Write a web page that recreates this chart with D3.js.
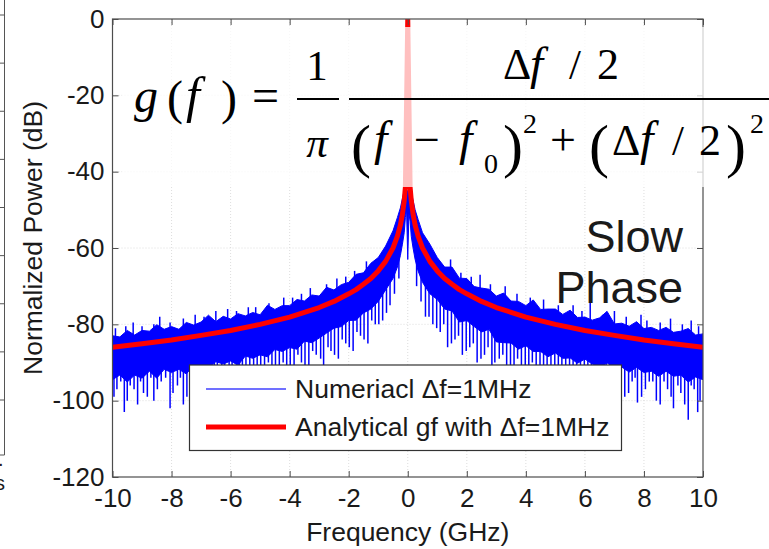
<!DOCTYPE html>
<html>
<head>
<meta charset="utf-8">
<script src="https://cdn.jsdelivr.net/npm/d3@7"></script>
<style>
	body { margin: 0; background: #fff; }
	svg { display: block; }
	text { font-family: "Liberation Sans", Arial, Helvetica, sans-serif; fill: #1a1a1a; }
	.eq text { font-family: "Liberation Serif", "Times New Roman", serif; fill: #000; }
</style>
</head>
<body>
<svg id="chart" width="769" height="549"></svg>
<script>
// axis ticks
var xTicks = [-10, -8, -6, -4, -2, 0, 2, 4, 6, 8, 10];
var yTicks = [-120, -100, -80, -60, -40, -20, 0];

// analytical lorentzian (red), dB
var redFreq = [-10, -9, -8, -7, -6, -5, -4, -3, -2.5, -2, -1.75, -1.5, -1.25, -1, -0.75, -0.5, -0.35, -0.25, -0.18, -0.12, -0.08, 0,
	0.08, 0.12, 0.18, 0.25, 0.35, 0.5, 0.75, 1, 1.25, 1.5, 1.75, 2, 2.5, 3, 4, 5, 6, 7, 8, 9, 10];
var redDb = [-86.0, -85.1, -84.1, -82.9, -81.6, -80.0, -78.1, -75.6, -74.0, -72.0, -70.9, -69.5, -68.0, -66.0, -63.5, -60.0, -56.9, -54.0, -51.1, -47.6, -44.1, 0,
	-44.1, -47.6, -51.1, -54.0, -56.9, -60.0, -63.5, -66.0, -68.0, -69.5, -70.9, -72.0, -74.0, -75.6, -78.1, -80.0, -81.6, -82.9, -84.1, -85.1, -86.0];

// numerical spectrum (blue): dense core band, upper / lower edge in dB
var blueFreq = [-10, -9.75, -9.5, -9.25, -9, -8.75, -8.5, -8.25, -8, -7.75, -7.5, -7.25, -7, -6.75, -6.5, -6.25, -6, -5.75, -5.5, -5.25,
	-5, -4.75, -4.5, -4.25, -4, -3.75, -3.5, -3.25, -3, -2.75, -2.5, -2.25, -2, -1.75, -1.5, -1.25, -1,
	-0.75, -0.5, -0.35, -0.25, -0.18, -0.12, -0.08, -0.04, 0, 0.04, 0.08, 0.12, 0.18, 0.25, 0.35, 0.5, 0.75,
	1, 1.25, 1.5, 1.75, 2, 2.25, 2.5, 2.75, 3, 3.25, 3.5, 3.75, 4, 4.25, 4.5, 4.75, 5, 5.25, 5.5, 5.75,
	6, 6.25, 6.5, 6.75, 7, 7.25, 7.5, 7.75, 8, 8.25, 8.5, 8.75, 9, 9.25, 9.5, 9.75, 10];
var blueHi = [-83.0, -83.3, -81.6, -82.8, -81.6, -81.8, -80.1, -81.3, -80.6, -81.3, -79.5, -80.2, -79.4, -77.6, -79.3, -77.9, -78.6, -77.2, -77.8, -76.9,
	-77.5, -75.0, -76.1, -75.1, -75.1, -73.5, -73.9, -72.3, -72.6, -70.3, -71.0, -69.6, -69.0, -66.9, -66.5, -64.0, -62.5,
	-59.5, -55.5, -52.0, -49.5, -47.0, -45.0, -44.5, -45.0, -45.0, -45.0, -44.5, -45.5, -47.5, -50.0, -52.5, -56.0, -59.0,
	-62.5, -65.0, -65.0, -67.9, -68.0, -70.1, -70.5, -70.8, -72.6, -71.8, -73.9, -74.0, -75.1, -73.6, -76.1, -76.0, -76.0, -77.4, -76.3, -78.2,
	-78.1, -78.9, -78.3, -76.6, -79.9, -79.7, -80.5, -79.3, -81.1, -80.8, -81.6, -80.8, -82.1, -81.8, -81.1, -82.8, -82.5];
var blueLo = [-94.5, -93.3, -95.1, -93.3, -94.1, -92.3, -94.1, -91.8, -92.6, -91.8, -93.0, -90.7, -91.4, -91.6, -89.8, -90.4, -89.6, -90.7, -88.3, -88.9,
	-88.0, -88.5, -86.6, -87.1, -86.1, -86.5, -84.4, -84.8, -83.6, -82.3, -81.0, -80.6, -79.0, -78.9, -77.0, -76.0, -74.0,
	-71.0, -68.0, -65.0, -62.0, -59.0, -56.0, -52.0, -50.0, -63.0, -51.0, -53.0, -57.0, -60.0, -63.0, -66.0, -69.0, -72.0,
	-73.5, -76.0, -76.5, -79.4, -79.0, -80.6, -82.0, -81.3, -84.6, -84.8, -84.9, -86.5, -85.6, -87.1, -87.1, -88.5, -87.5, -88.9, -88.8, -90.2,
	-89.1, -90.4, -91.3, -90.1, -91.4, -91.2, -92.5, -91.3, -92.6, -92.3, -93.6, -92.3, -93.6, -93.3, -95.1, -93.8, -94.5];

// isolated spikes of the numerical spectrum (from / to in dB)
var spikeFreq = [-9.85, -9.6, -9.4, -9.15, -8.95, -8.6, -8.35, -8.05, -7.8, -7.6, -7.35, -7.1, -6.85, -6.55, -6.3, -6.05, -5.8, -5.6, -5.35, -5.1,
	-4.85, -4.6, -4.35, -4.1, -3.85, -3.6, -3.35, -3.1, -2.85, -2.6, -2.35, -2.1, -1.85, -1.6, -1.35, -1.1, -0.85, -0.6,
	0.6, 0.85, 1.1, 1.35, 1.6, 1.85, 2.1, 2.35, 2.6, 2.85, 3.1, 3.35, 3.6, 3.85, 4.1, 4.35, 4.6, 4.85, 5.1, 5.35, 5.6, 5.85,
	6.1, 6.35, 6.6, 6.85, 7.1, 7.35, 7.6, 7.78, 8.05, 8.3, 8.55, 8.8, 9.0, 9.25, 9.5, 9.7, 9.9,
	-9.3, -8.4, -7.2, -6.1, -5.4, -4.2, -3.3, -2.4, -1.4, 1.45, 2.45, 3.3, 4.6, 5.6, 6.18, 7.0, 7.9, 8.9, 9.6,
	-9.95, -9.72, -9.5, -9.27, -9.05, -8.82, -8.7, -8.48, -8.2, -7.95, -7.7, -7.48, -7.22, -6.98, -6.7, -6.45, -6.2, -5.95, -5.7, -5.48,
	-5.22, -4.98, -4.72, -4.48, -4.22, -3.98, -3.72, -3.48, -3.22, -2.95, -2.7, -2.48, -2.22, -1.98, -1.72, -1.48, -1.22, -0.98, -0.72, -0.45, -0.3,
	0.3, 0.45, 0.72, 0.98, 1.22, 1.48, 1.72, 1.98, 2.22, 2.48, 2.72, 2.95, 3.22, 3.48, 3.72, 3.98, 4.22, 4.48, 4.72, 4.98,
	5.22, 5.48, 5.72, 5.98, 6.22, 6.48, 6.72, 6.98, 7.22, 7.48, 7.7, 7.92, 8.18, 8.42, 8.68, 8.92, 9.15, 9.38, 9.6, 9.82,
	-9.9, -9.55, -9.0, -8.6, -8.05, -7.6, -6.9, -6.5, -5.8, -5.15, -4.7, -3.9, -3.6, -2.75, -2.1, -1.8,
	1.8, 2.15, 2.8, 3.7, 4.15, 5.1, 5.9, 6.6, 7.4, 8.1, 8.55, 9.3, 9.85];
var spikeTop = [-89, -89, -89, -88, -88, -88, -88, -87, -87, -87, -86, -86, -86, -85, -85, -85, -84, -84, -84, -83,
	-83, -82, -82, -81, -81, -80, -79, -79, -78, -77, -76, -75, -74, -72, -71, -69, -66, -63,
	-64, -67, -70, -72, -73, -75, -76, -77, -78, -79, -80, -80, -81, -82, -82, -83, -83, -84, -84, -84, -85, -85,
	-85, -86, -86, -86, -87, -87, -87, -88, -88, -88, -88, -89, -89, -89, -89, -89, -90,
	-79.5, -78, -77.5, -76, -75.5, -73, -70.5, -68, -63.5, -63, -67, -70, -73.5, -75, -74, -76.5, -77.5, -78.5, -79,
	-89, -89, -88, -88, -88, -88, -88, -87, -87, -87, -87, -86, -86, -86, -85, -85, -85, -84, -84, -84,
	-83, -83, -82, -82, -81, -81, -80, -79, -79, -78, -77, -76, -75, -74, -73, -71, -70, -68, -65, -61, -58,
	-58, -61, -65, -68, -70, -71, -73, -74, -75, -76, -77, -78, -79, -79, -80, -81, -81, -82, -82, -83,
	-83, -84, -84, -84, -85, -85, -85, -86, -86, -86, -87, -87, -87, -87, -88, -88, -88, -88, -89, -89,
	-81, -80.5, -80.5, -80, -79.5, -78.5, -78, -76.5, -76.5, -75.5, -74.5, -73, -72, -69.5, -67.5, -66,
	-66.5, -67.5, -69.5, -72, -73, -75, -76.5, -77.5, -78, -79, -79.5, -80, -80.5];
var spikeBottom = [-97, -103, -96, -101, -98, -100, -95, -102, -96, -101, -95, -98, -94, -97, -93, -96, -99, -93, -96, -92,
	-98, -93, -95, -91, -94, -90, -92, -88, -91, -87, -89, -85, -87, -83, -85, -80, -79, -75,
	-78, -80, -82, -86, -84, -88, -86, -90, -88, -92, -89, -93, -91, -95, -92, -96, -93, -97, -94, -98, -94, -97,
	-95, -99, -95, -98, -96, -99, -95, -100.5, -97, -95, -101, -97, -102, -98, -105, -97, -100,
	-85, -84, -83, -81.5, -80.5, -78.5, -76, -73.5, -69, -69, -74, -76, -79, -81, -81.8, -83, -84, -85, -85.5,
	-99, -95, -100, -97, -95, -99, -94, -97, -94, -98, -94, -99, -93, -97, -92, -99, -93, -96, -92, -97,
	-91, -94, -90, -95, -90, -93, -88, -92, -87, -89, -86, -88, -84, -86, -82, -84, -79, -80, -77, -72, -68,
	-70, -74, -78, -81, -80, -85, -83, -87, -85, -89, -86, -90, -88, -92, -89, -94, -90, -95, -91, -96,
	-92, -97, -93, -98, -93, -97, -94, -99, -94, -98, -94, -99, -95, -100, -95, -99, -96, -101, -96, -103,
	-86, -85.6, -85, -84.6, -84, -83.6, -82.8, -82.3, -81.2, -80.3, -79.5, -77.9, -77.2, -74.8, -72.4, -71,
	-71, -72.6, -75, -77.4, -78.4, -80.2, -81.4, -82.4, -83.4, -84.1, -84.6, -85.3, -86];

var legendLabels = ["Numeriacl \u0394f=1MHz", "Analytical gf with \u0394f=1MHz"];

var svg = d3.select("#chart");
var x = d3.scaleLinear().domain([-10, 10]).range([112.5, 703]);
var y = d3.scaleLinear().domain([-120, 0]).range([477, 19]);

// left neighbour panel leftover (cropped figure)
var yn = d3.scaleLinear().domain([0, 8]).range([15, 400]);
svg.append("line").attr("x1", 4.5).attr("x2", 4.5).attr("y1", 0).attr("y2", 455).attr("stroke", "#555");
svg.append("line").attr("x1", 0).attr("x2", 4.5).attr("y1", 455).attr("y2", 455).attr("stroke", "#555");
svg.selectAll(".ntick").data(d3.range(0, 9)).enter().append("line")
	.attr("x1", 0).attr("x2", 4.5).attr("y1", function(d) { return yn(d); }).attr("y2", function(d) { return yn(d); })
	.attr("stroke", "#555");
svg.append("text").attr("x", -2).attr("y", 466).attr("font-size", 20).text(".");
svg.append("text").attr("x", -5).attr("y", 490).attr("font-size", 20).text("s");

// grid
var grid = svg.append("g").attr("stroke", "#d4d4d4").attr("stroke-width", 0.8).attr("stroke-dasharray", "1,2");
grid.selectAll(".gx").data(xTicks.slice(1, -1)).enter().append("line")
	.attr("x1", function(d) { return x(d); }).attr("x2", function(d) { return x(d); })
	.attr("y1", y(0)).attr("y2", y(-120));
grid.selectAll(".gy").data(yTicks.slice(1, -1)).enter().append("line")
	.attr("y1", function(d) { return y(d); }).attr("y2", function(d) { return y(d); })
	.attr("x1", x(-10)).attr("x2", x(10));

svg.append("clipPath").attr("id", "plotClip").append("rect")
	.attr("x", x(-10)).attr("y", y(0)).attr("width", x(10) - x(-10)).attr("height", y(-120) - y(0));

var plot = svg.append("g").attr("clip-path", "url(#plotClip)");

// blue band
var bandArea = d3.area()
	.x(function(d, i) { return x(blueFreq[i]); })
	.y0(function(d, i) { return y(blueLo[i]); })
	.y1(function(d, i) { return y(blueHi[i]); });

plot.append("path")
	.attr("d", bandArea(blueFreq))
	.attr("fill", "#0000ff")
	.attr("stroke", "#0000ff")
	.attr("stroke-width", 1);

plot.selectAll(".spike").data(spikeFreq).enter().append("line")
	.attr("x1", function(d) { return x(d); }).attr("x2", function(d) { return x(d); })
	.attr("y1", function(d, i) { return y(spikeTop[i]); })
	.attr("y2", function(d, i) { return y(spikeBottom[i]); })
	.attr("stroke", "#0000ff")
	.attr("stroke-width", 1.5);

// red analytical line
var redLine = d3.line()
	.x(function(d, i) { return x(redFreq[i]); })
	.y(function(d, i) { return y(redDb[i]); });

plot.append("path")
	.attr("d", redLine(redFreq))
	.attr("fill", "none")
	.attr("stroke", "#ff0000")
	.attr("stroke-width", 5)
	.attr("stroke-linejoin", "round");

// axes, ticks inside on all four sides
var axisColor = "#4d4d4d";
function styleAxis(g) {
	g.select(".domain").remove();
	g.selectAll(".tick line").attr("stroke", axisColor);
	g.selectAll(".tick text").attr("fill", "#1a1a1a").attr("font-size", 26)
		.attr("font-family", "'Liberation Sans', Arial, Helvetica, sans-serif");
}

svg.append("g").attr("transform", "translate(0," + y(-120) + ")")
	.call(d3.axisBottom(x).tickValues(xTicks).tickSizeInner(-6).tickSizeOuter(0).tickPadding(12)
		.tickFormat(function(d) { return String(d); }))
	.call(styleAxis);
svg.append("g").attr("transform", "translate(" + x(-10) + ",0)")
	.call(d3.axisLeft(y).tickValues(yTicks).tickSizeInner(-6).tickSizeOuter(0).tickPadding(8)
		.tickFormat(function(d) { return String(d); }))
	.call(styleAxis);
svg.append("g").attr("transform", "translate(0," + y(0) + ")")
	.call(d3.axisTop(x).tickValues(xTicks).tickSizeInner(-6).tickSizeOuter(0).tickFormat(""))
	.call(styleAxis);
svg.append("g").attr("transform", "translate(" + x(10) + ",0)")
	.call(d3.axisRight(y).tickValues(yTicks).tickSizeInner(-6).tickSizeOuter(0).tickFormat(""))
	.call(styleAxis);

svg.append("rect")
	.attr("x", x(-10)).attr("y", y(0)).attr("width", x(10) - x(-10)).attr("height", y(-120) - y(0))
	.attr("fill", "none").attr("stroke", axisColor).attr("stroke-width", 1.2);

// axis labels
svg.append("text").attr("x", (x(-10) + x(10)) / 2).attr("y", 541)
	.attr("text-anchor", "middle").attr("font-size", 26.5).text("Frequency (GHz)");
svg.append("text").attr("transform", "translate(42," + 238 + ") rotate(-90)")
	.attr("text-anchor", "middle").attr("font-size", 26.5).text("Normalized Power (dB)");

// pasted formula picture (semi transparent white background)
svg.append("rect").attr("x", 122).attr("y", 27).attr("width", 647).attr("height", 160)
	.attr("fill", "#fff").attr("fill-opacity", 0.75);

var eq = svg.append("g").attr("class", "eq");
function glyph(t, gx, gy, size, italic, anchor) {
	eq.append("text").attr("x", gx).attr("y", gy).attr("font-size", size)
		.attr("font-style", italic ? "italic" : "normal")
		.attr("text-anchor", anchor || "start")
		.text(t);
}
glyph("g", 134, 112, 48, true);
glyph("(", 167, 114, 48, false);
glyph("f", 186, 112, 50, true);
glyph(")", 221, 114, 48, false);
glyph("=", 252, 112, 48, false);
glyph("1", 317, 80, 43, false, "middle");
glyph("\u03c0", 317, 157, 43, true, "middle");
eq.append("line").attr("x1", 297).attr("x2", 339).attr("y1", 99).attr("y2", 99).attr("stroke", "#000").attr("stroke-width", 2.2);
eq.append("line").attr("x1", 349).attr("x2", 769).attr("y1", 99).attr("y2", 99).attr("stroke", "#000").attr("stroke-width", 2.2);
// numerator
glyph("\u0394", 503, 79, 44, false);
glyph("f", 530, 79, 47, true);
glyph("/", 569, 79, 43, false);
glyph("2", 597, 79, 44, false);
// denominator
glyph("(", 351, 166, 60, false);
glyph("f", 374, 155, 48, true);
glyph("\u2212", 414, 155, 46, false);
glyph("f", 459, 155, 48, true);
glyph("0", 484, 173, 28, false);
glyph(")", 503, 166, 60, false);
glyph("2", 523, 133, 28, false);
glyph("+", 550, 155, 46, false);
glyph("(", 589, 166, 60, false);
glyph("\u0394", 612, 155, 44, false);
glyph("f", 640, 155, 48, true);
glyph("/", 672, 155, 43, false);
glyph("2", 699, 155, 44, false);
glyph(")", 726, 166, 60, false);
glyph("2", 750, 133, 28, false);

// annotation
svg.append("text").attr("x", 683).attr("y", 252).attr("text-anchor", "end").attr("font-size", 45).attr("fill", "#000").text("Slow");
svg.append("text").attr("x", 683).attr("y", 303).attr("text-anchor", "end").attr("font-size", 45).attr("fill", "#000").text("Phase");

// legend
var legend = svg.append("g");
legend.append("rect").attr("x", 189.5).attr("y", 365).attr("width", 432).attr("height", 85.5)
	.attr("fill", "#fff").attr("stroke", "#333").attr("stroke-width", 1.2);
var legendColors = ["#4040ff", "#ff0000"];
var legendWidths = [1.3, 5];
legend.selectAll(".lline").data(legendLabels).enter().append("line")
	.attr("x1", 206).attr("x2", 286)
	.attr("y1", function(d, i) { return 389 + i * 38; })
	.attr("y2", function(d, i) { return 389 + i * 38; })
	.attr("stroke", function(d, i) { return legendColors[i]; })
	.attr("stroke-width", function(d, i) { return legendWidths[i]; });
legend.selectAll(".ltext").data(legendLabels).enter().append("text")
	.attr("x", 295)
	.attr("y", function(d, i) { return 398 + i * 38; })
	.attr("font-size", 26.5)
	.text(function(d) { return d; });
</script>
</body>
</html>
